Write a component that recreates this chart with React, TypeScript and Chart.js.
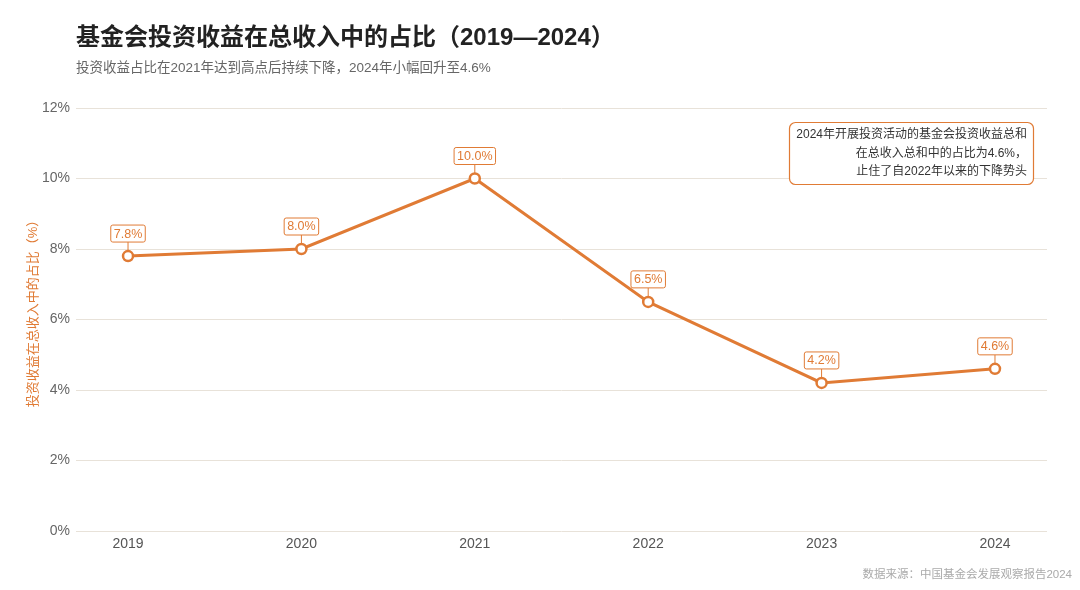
import React, { useEffect, useRef } from "react";
import { Chart, registerables } from "chart.js";

Chart.register(...registerables);

const years = ["2019", "2020", "2021", "2022", "2023", "2024"];
const shares = [7.8, 8.0, 10.0, 6.5, 4.2, 4.6];
const yTicks = [0, 2, 4, 6, 8, 10, 12];
const titleText = "基金会投资收益在总收入中的占比（2019—2024）";
const subtitleText = "投资收益占比在2021年达到高点后持续下降，2024年小幅回升至4.6%";
const yAxisTitle = "投资收益在总收入中的占比（%）";
const noteLines = [
  "2024年开展投资活动的基金会投资收益总和",
  "在总收入总和中的占比为4.6%，",
  "止住了自2022年以来的下降势头",
];
const sourceText = "数据来源：中国基金会发展观察报告2024";

const ORANGE = "#E07B35";
const FONT = '"Liberation Sans", "Noto Sans CJK SC", sans-serif';

function roundRect(ctx: CanvasRenderingContext2D, x: number, y: number, w: number, h: number, r: number) {
  ctx.beginPath();
  ctx.moveTo(x + r, y);
  ctx.lineTo(x + w - r, y);
  ctx.arcTo(x + w, y, x + w, y + r, r);
  ctx.lineTo(x + w, y + h - r);
  ctx.arcTo(x + w, y + h, x + w - r, y + h, r);
  ctx.lineTo(x + r, y + h);
  ctx.arcTo(x, y + h, x, y + h - r, r);
  ctx.lineTo(x, y + r);
  ctx.arcTo(x, y, x + r, y, r);
  ctx.closePath();
}

const decorPlugin = {
  id: "decor",
  afterDraw(chart: any) {
    const ctx: CanvasRenderingContext2D = chart.ctx;
    ctx.save();
    // title
    ctx.fillStyle = "#222";
    ctx.font = `bold 24px ${FONT}`;
    ctx.textAlign = "left";
    ctx.textBaseline = "middle";
    ctx.fillText(titleText, 76, 38);
    ctx.fillStyle = "#666";
    ctx.font = `13.5px ${FONT}`;
    ctx.fillText(subtitleText, 76, 68);

    // y axis title
    ctx.save();
    const area = chart.chartArea;
    ctx.translate(33, (area.top + area.bottom) / 2 - 9);
    ctx.rotate(-Math.PI / 2);
    ctx.fillStyle = ORANGE;
    ctx.font = `13px ${FONT}`;
    ctx.textAlign = "center";
    ctx.textBaseline = "middle";
    ctx.fillText(yAxisTitle, 0, 0);
    ctx.restore();

    // data labels
    const meta = chart.getDatasetMeta(0);
    ctx.font = `12.5px ${FONT}`;
    meta.data.forEach((pt: any, i: number) => {
      const label = shares[i].toFixed(1) + "%";
      const w = ctx.measureText(label).width + 6;
      const h = 17;
      const bx = pt.x - w / 2;
      const by = pt.y - 31;
      ctx.strokeStyle = ORANGE;
      ctx.lineWidth = 1;
      ctx.beginPath();
      ctx.moveTo(pt.x, by + h);
      ctx.lineTo(pt.x, pt.y - 5);
      ctx.stroke();
      ctx.fillStyle = "#fff";
      roundRect(ctx, bx, by, w, h, 2);
      ctx.fill();
      ctx.stroke();
      ctx.fillStyle = ORANGE;
      ctx.textAlign = "center";
      ctx.textBaseline = "middle";
      ctx.fillText(label, pt.x, by + h / 2 + 0.5);
    });

    // annotation box
    ctx.fillStyle = "#fff";
    ctx.strokeStyle = ORANGE;
    ctx.lineWidth = 1.2;
    roundRect(ctx, 789.5, 122.5, 244, 62, 6);
    ctx.fill();
    ctx.stroke();
    ctx.fillStyle = "#333";
    ctx.font = `12px ${FONT}`;
    ctx.textAlign = "right";
    ctx.textBaseline = "middle";
    noteLines.forEach((ln, i) => ctx.fillText(ln, 1027, 135 + i * 18.5));

    // source
    ctx.fillStyle = "#aaa";
    ctx.font = `11.5px ${FONT}`;
    ctx.textAlign = "right";
    ctx.fillText(sourceText, 1072, 575);
    ctx.restore();
  },
};

export default function App() {
  const ref = useRef<HTMLCanvasElement>(null);
  useEffect(() => {
    document.body.style.margin = "0";
    const chart = new Chart(ref.current!, {
      type: "line",
      data: {
        datasets: [
          {
            data: shares.map((v, i) => ({ x: i, y: v })),
            borderColor: ORANGE,
            borderWidth: 3,
            pointRadius: 5,
            pointBorderWidth: 2.5,
            pointBackgroundColor: "#fff",
            pointBorderColor: ORANGE,
            tension: 0,
          },
        ],
      },
      options: {
        responsive: false,
        animation: false,
        layout: { padding: { left: 0, right: 33, top: 108, bottom: 19 } },
        plugins: { legend: { display: false }, tooltip: { enabled: false } },
        scales: {
          x: {
            type: "linear",
            min: -0.3,
            max: 5.3,
            afterBuildTicks: (s: any) => {
              s.ticks = years.map((_, i) => ({ value: i }));
            },
            afterFit: (s: any) => {
              s.height = 40;
            },
            grid: { display: false, drawTicks: false },
            border: { display: false },
            ticks: {
              callback: (v: any) => years[v] ?? "",
              color: "#555",
              font: { size: 14, family: FONT },
              padding: 5,
            },
          },
          y: {
            min: 0,
            max: 12,
            afterBuildTicks: (s: any) => {
              s.ticks = yTicks.map((v) => ({ value: v }));
            },
            afterFit: (s: any) => {
              s.width = 76;
            },
            border: { display: false },
            grid: {
              color: "#e8e2d9",
              lineWidth: 1,
              drawTicks: false,
            },
            ticks: {
              callback: (v: any) => v + "%",
              color: "#666",
              font: { size: 14, family: FONT },
              padding: 6,
            },
          },
        },
      },
      plugins: [decorPlugin],
    } as any);
    return () => chart.destroy();
  }, []);
  return <canvas ref={ref} width={1080} height={590} style={{ display: "block" }} />;
}
